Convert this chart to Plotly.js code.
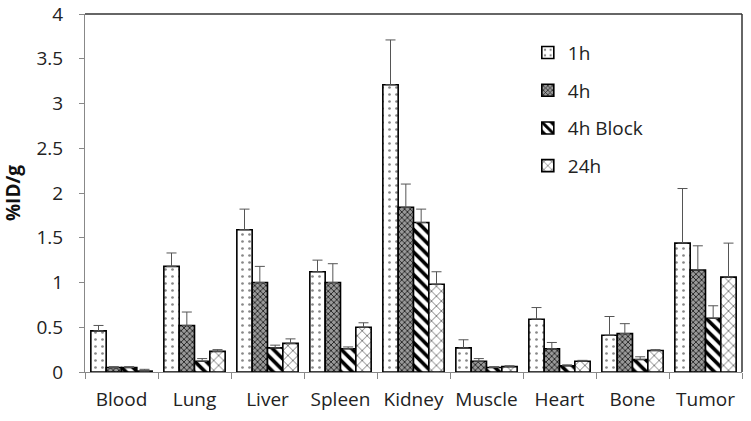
<!DOCTYPE html>
<html>
<head>
<meta charset="utf-8">
<script src="https://cdn.plot.ly/plotly-3.0.1.min.js"></script>
<style>html,body{margin:0;padding:0;background:#fff;}#chart{width:751px;height:421px;}</style>
</head>
<body>
<div id="chart"></div>
<script>
const categories = ["Blood","Lung","Liver","Spleen","Kidney","Muscle","Heart","Bone","Tumor"];
const seriesNames = ["1h","4h","4h Block","24h"];
const vals1h      = [0.46, 1.18, 1.59, 1.12, 3.21, 0.27, 0.59, 0.41, 1.44];
const err1h       = [0.06, 0.15, 0.23, 0.13, 0.50, 0.09, 0.13, 0.21, 0.61];
const vals4h      = [0.05, 0.52, 1.00, 1.00, 1.84, 0.12, 0.26, 0.43, 1.14];
const err4h       = [0.01, 0.15, 0.18, 0.21, 0.26, 0.03, 0.07, 0.11, 0.27];
const vals4hBlock = [0.05, 0.12, 0.27, 0.26, 1.67, 0.05, 0.07, 0.14, 0.60];
const err4hBlock  = [0.01, 0.03, 0.03, 0.02, 0.15, 0.01, 0.01, 0.03, 0.14];
const vals24h     = [0.01, 0.23, 0.32, 0.50, 0.98, 0.06, 0.12, 0.24, 1.06];
const err24h      = [0.02, 0.02, 0.05, 0.05, 0.14, 0.01, 0.01, 0.01, 0.38];
const yTicks = [0, 0.5, 1, 1.5, 2, 2.5, 3, 3.5, 4];
const yTickText = ["0","0.5","1","1.5","2","2.5","3","3.5","4"];

const values = [vals1h, vals4h, vals4hBlock, vals24h];
const errors = [err1h, err4h, err4hBlock, err24h];
const patterns = [
  {shape: ".", fgcolor: "#888", bgcolor: "#fff", size: 7, solidity: 0.12, fillmode: "replace"},
  {shape: "x", fgcolor: "#222", bgcolor: "#999", size: 4, solidity: 0.4, fillmode: "replace"},
  {shape: "\\", fgcolor: "#000", bgcolor: "#fff", size: 8, solidity: 0.45, fillmode: "replace"},
  {shape: "x", fgcolor: "#666", bgcolor: "#fff", size: 7, solidity: 0.22, fillmode: "replace"}
];

const traces = seriesNames.map((name, i) => ({
  type: "bar",
  name: name,
  x: categories,
  y: values[i],
  legendgroup: "g" + i,
  marker: {color: "#fff", line: {color: "#000", width: 1.6}, pattern: patterns[i]},
  error_y: {type: "data", array: errors[i], symmetric: false, arrayminus: errors[i].map(() => 0), color: "#555", thickness: 1, width: 5}
}));

const font = "Open Sans, Liberation Sans, sans-serif";
const layout = {
  width: 751, height: 421,
  margin: {l: 85, r: 9, t: 14, b: 49},
  paper_bgcolor: "#fff", plot_bgcolor: "#fff",
  barmode: "group", bargap: 0.16, bargroupgap: 0,
  font: {family: font, size: 19, color: "#222"},
  showlegend: true,
  legend: {x: 0.674, y: 0.945, xanchor: "left", yanchor: "top", traceorder: "grouped", tracegroupgap: 10,
           font: {family: font, size: 19, color: "#222"}, bgcolor: "rgba(0,0,0,0)"},
  xaxis: {type: "category", showline: true, linecolor: "#888", linewidth: 1, ticks: "outside", tickson: "boundaries",
          ticklen: 6, tickcolor: "#888", showgrid: false, zeroline: false, ticklabelstandoff: 10,
          tickfont: {size: 19, family: font, color: "#222"}},
  yaxis: {range: [0, 4], tickvals: yTicks, ticktext: yTickText, showline: true, linecolor: "#888", linewidth: 1,
          ticks: "outside", ticklen: 5, tickcolor: "#888", showgrid: false, zeroline: false, ticklabelstandoff: 12,
          tickfont: {size: 19, family: font, color: "#222"},
          title: {text: "<b>%ID/g</b>", font: {size: 19, family: font, color: "#111"}, standoff: 10}},
  shapes: [
    {type: "line", xref: "paper", yref: "paper", x0: 0, x1: 1, y0: 1, y1: 1, line: {color: "#333", width: 1.5}},
    {type: "line", xref: "paper", yref: "paper", x0: 1, x1: 1, y0: 0, y1: 1, line: {color: "#333", width: 1.5}}
  ]
};

Plotly.newPlot("chart", traces, layout, {displayModeBar: false, staticPlot: true});
</script>
</body>
</html>
